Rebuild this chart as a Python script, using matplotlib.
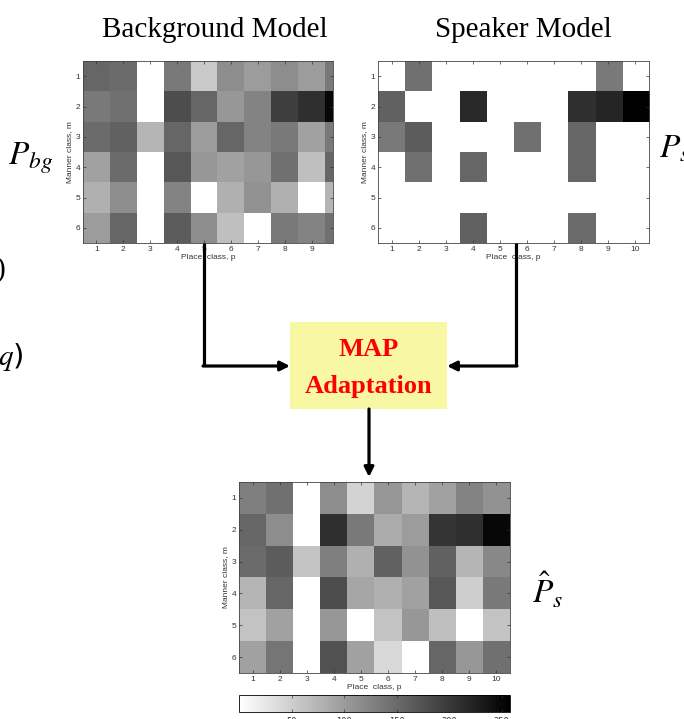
import numpy as np
import matplotlib
matplotlib.use("Agg")
import matplotlib.pyplot as plt
from matplotlib.patches import Rectangle

# ------------------------------------------------------------
# data: 6 manner classes x 10 place classes (counts, 0..~258)
# ------------------------------------------------------------
place_ticks = list(range(1, 11))
manner_ticks = list(range(1, 7))
cbar_ticks = [50, 100, 150, 200, 250]

p_bg = np.array([
    [155, 150, 0, 135, 55, 115, 100, 115, 100, 135],
    [135, 145, 0, 180, 155, 105, 125, 195, 210, 250],
    [150, 160, 75, 155, 100, 155, 125, 135, 95, 135],
    [95, 150, 0, 170, 105, 95, 105, 145, 65, 155],
    [80, 115, 0, 125, 0, 80, 110, 80, 0, 75],
    [100, 155, 0, 165, 115, 65, 0, 135, 125, 145],
])

p_s = np.array([
    [0, 145, 0, 0, 0, 0, 0, 0, 135, 0],
    [160, 0, 0, 215, 0, 0, 0, 210, 220, 255],
    [135, 165, 0, 0, 0, 145, 0, 155, 0, 0],
    [0, 145, 0, 155, 0, 0, 0, 155, 0, 0],
    [0, 0, 0, 0, 0, 0, 0, 0, 0, 0],
    [0, 0, 0, 160, 0, 0, 0, 150, 0, 0],
])

p_hat = np.array([
    [130, 145, 0, 115, 45, 105, 75, 95, 125, 110],
    [155, 115, 0, 210, 135, 85, 100, 205, 210, 250],
    [150, 165, 60, 130, 80, 160, 110, 160, 75, 120],
    [75, 155, 0, 180, 90, 80, 95, 170, 50, 135],
    [60, 95, 0, 105, 0, 60, 105, 65, 0, 60],
    [95, 140, 0, 175, 95, 40, 0, 155, 105, 145],
])

VMIN, VMAX = 0, 258
W, H = 684, 719

plt.rcParams["mathtext.fontset"] = "stix"
fig = plt.figure(figsize=(W / 100, H / 100), dpi=100)


def px_axes(x0, y0, x1, y1):
    return fig.add_axes([x0 / W, 1 - y1 / H, (x1 - x0) / W, (y1 - y0) / H])


def heatmap(ax, data, xmax=10.5):
    im = ax.imshow(data, cmap="gray_r", vmin=VMIN, vmax=VMAX, aspect="auto",
                   interpolation="nearest", extent=(0.5, 10.5, 6.5, 0.5))
    ax.set_xlim(0.5, xmax)
    ax.set_ylim(6.5, 0.5)
    ax.set_xticks([t for t in place_ticks if t < xmax])
    ax.set_yticks(manner_ticks)
    ax.tick_params(direction="in", length=2.5, width=0.5, top=True, right=True,
                   labelsize=6, colors="#333333", pad=2)
    for s in ax.spines.values():
        s.set_linewidth(0.6)
        s.set_color("#444444")
    ax.set_xlabel("Place  class, p", fontsize=6, color="#333333",
                  family="Liberation Sans", labelpad=1)
    ax.set_ylabel("Manner class, m", fontsize=6, color="#333333",
                  family="Liberation Sans", labelpad=2)
    for lab in ax.get_xticklabels() + ax.get_yticklabels():
        lab.set_family("Liberation Sans")
    return im


# --- three heatmaps ---
ax_bg = px_axes(83, 61, 333, 243)
heatmap(ax_bg, p_bg, xmax=9.79)

ax_s = px_axes(378, 61, 649, 243)
heatmap(ax_s, p_s)

ax_h = px_axes(239, 482, 510, 673)
im = heatmap(ax_h, p_hat)

# --- colorbar (its tick labels run off the bottom edge, as in the source) ---
cax = px_axes(239, 695, 510, 712)
cb = fig.colorbar(im, cax=cax, orientation="horizontal", ticks=cbar_ticks)
cb.outline.set_linewidth(0.6)
cax.tick_params(direction="in", length=2.5, width=0.5, top=True,
                labelsize=6, colors="#333333", pad=3.5)

# --- titles and symbols ---
serif = "Liberation Serif"
fig.text(215 / W, 1 - 37 / H, "Background Model", family=serif, fontsize=21,
         ha="center", va="baseline")
fig.text(523 / W, 1 - 37 / H, "Speaker Model", family=serif, fontsize=21,
         ha="center", va="baseline")
fig.text(8 / W, 1 - 165 / H, r"$P_{bg}$", fontsize=24, ha="left", va="baseline")
fig.text(659 / W, 1 - 157 / H, r"$P_s$", fontsize=24, ha="left", va="baseline")
fig.text(532 / W, 1 - 603 / H, r"$\hat{P}_s$", fontsize=24, ha="left",
         va="baseline")
# clipped fragments of text at the left edge
fig.text(6 / W, 1 - 277 / H, ")", family=serif, fontsize=21, ha="right",
         va="baseline")
fig.text(23 / W, 1 - 365 / H, r"$q$)", fontsize=21, ha="right", va="baseline")

# --- overlay: MAP box and arrows ---
ov = fig.add_axes([0, 0, 1, 1])
ov.set_xlim(0, W)
ov.set_ylim(H, 0)
ov.axis("off")

ov.add_patch(Rectangle((290, 322), 157, 87, facecolor="#f8f7a3",
                       edgecolor="none"))
ov.text(369, 350, "MAP", family=serif, fontsize=19, fontweight="bold",
        color="#ff0000", ha="center", va="center")
ov.text(369, 386, "Adaptation", family=serif, fontsize=19, fontweight="bold",
        color="#ff0000", ha="center", va="center")

lw = 2.3
arrow = dict(arrowstyle="-|>", lw=lw, color="black", mutation_scale=14,
             shrinkA=0, shrinkB=0)
ov.plot([204, 204], [243, 366], color="black", lw=lw, solid_capstyle="butt")
ov.annotate("", xy=(290, 366), xytext=(203, 366), arrowprops=arrow)
ov.plot([516, 516], [243, 366], color="black", lw=lw, solid_capstyle="butt")
ov.annotate("", xy=(447, 366), xytext=(517, 366), arrowprops=arrow)
ov.annotate("", xy=(369, 477), xytext=(369, 409), arrowprops=arrow)

fig.savefig("out.png", dpi=100)
